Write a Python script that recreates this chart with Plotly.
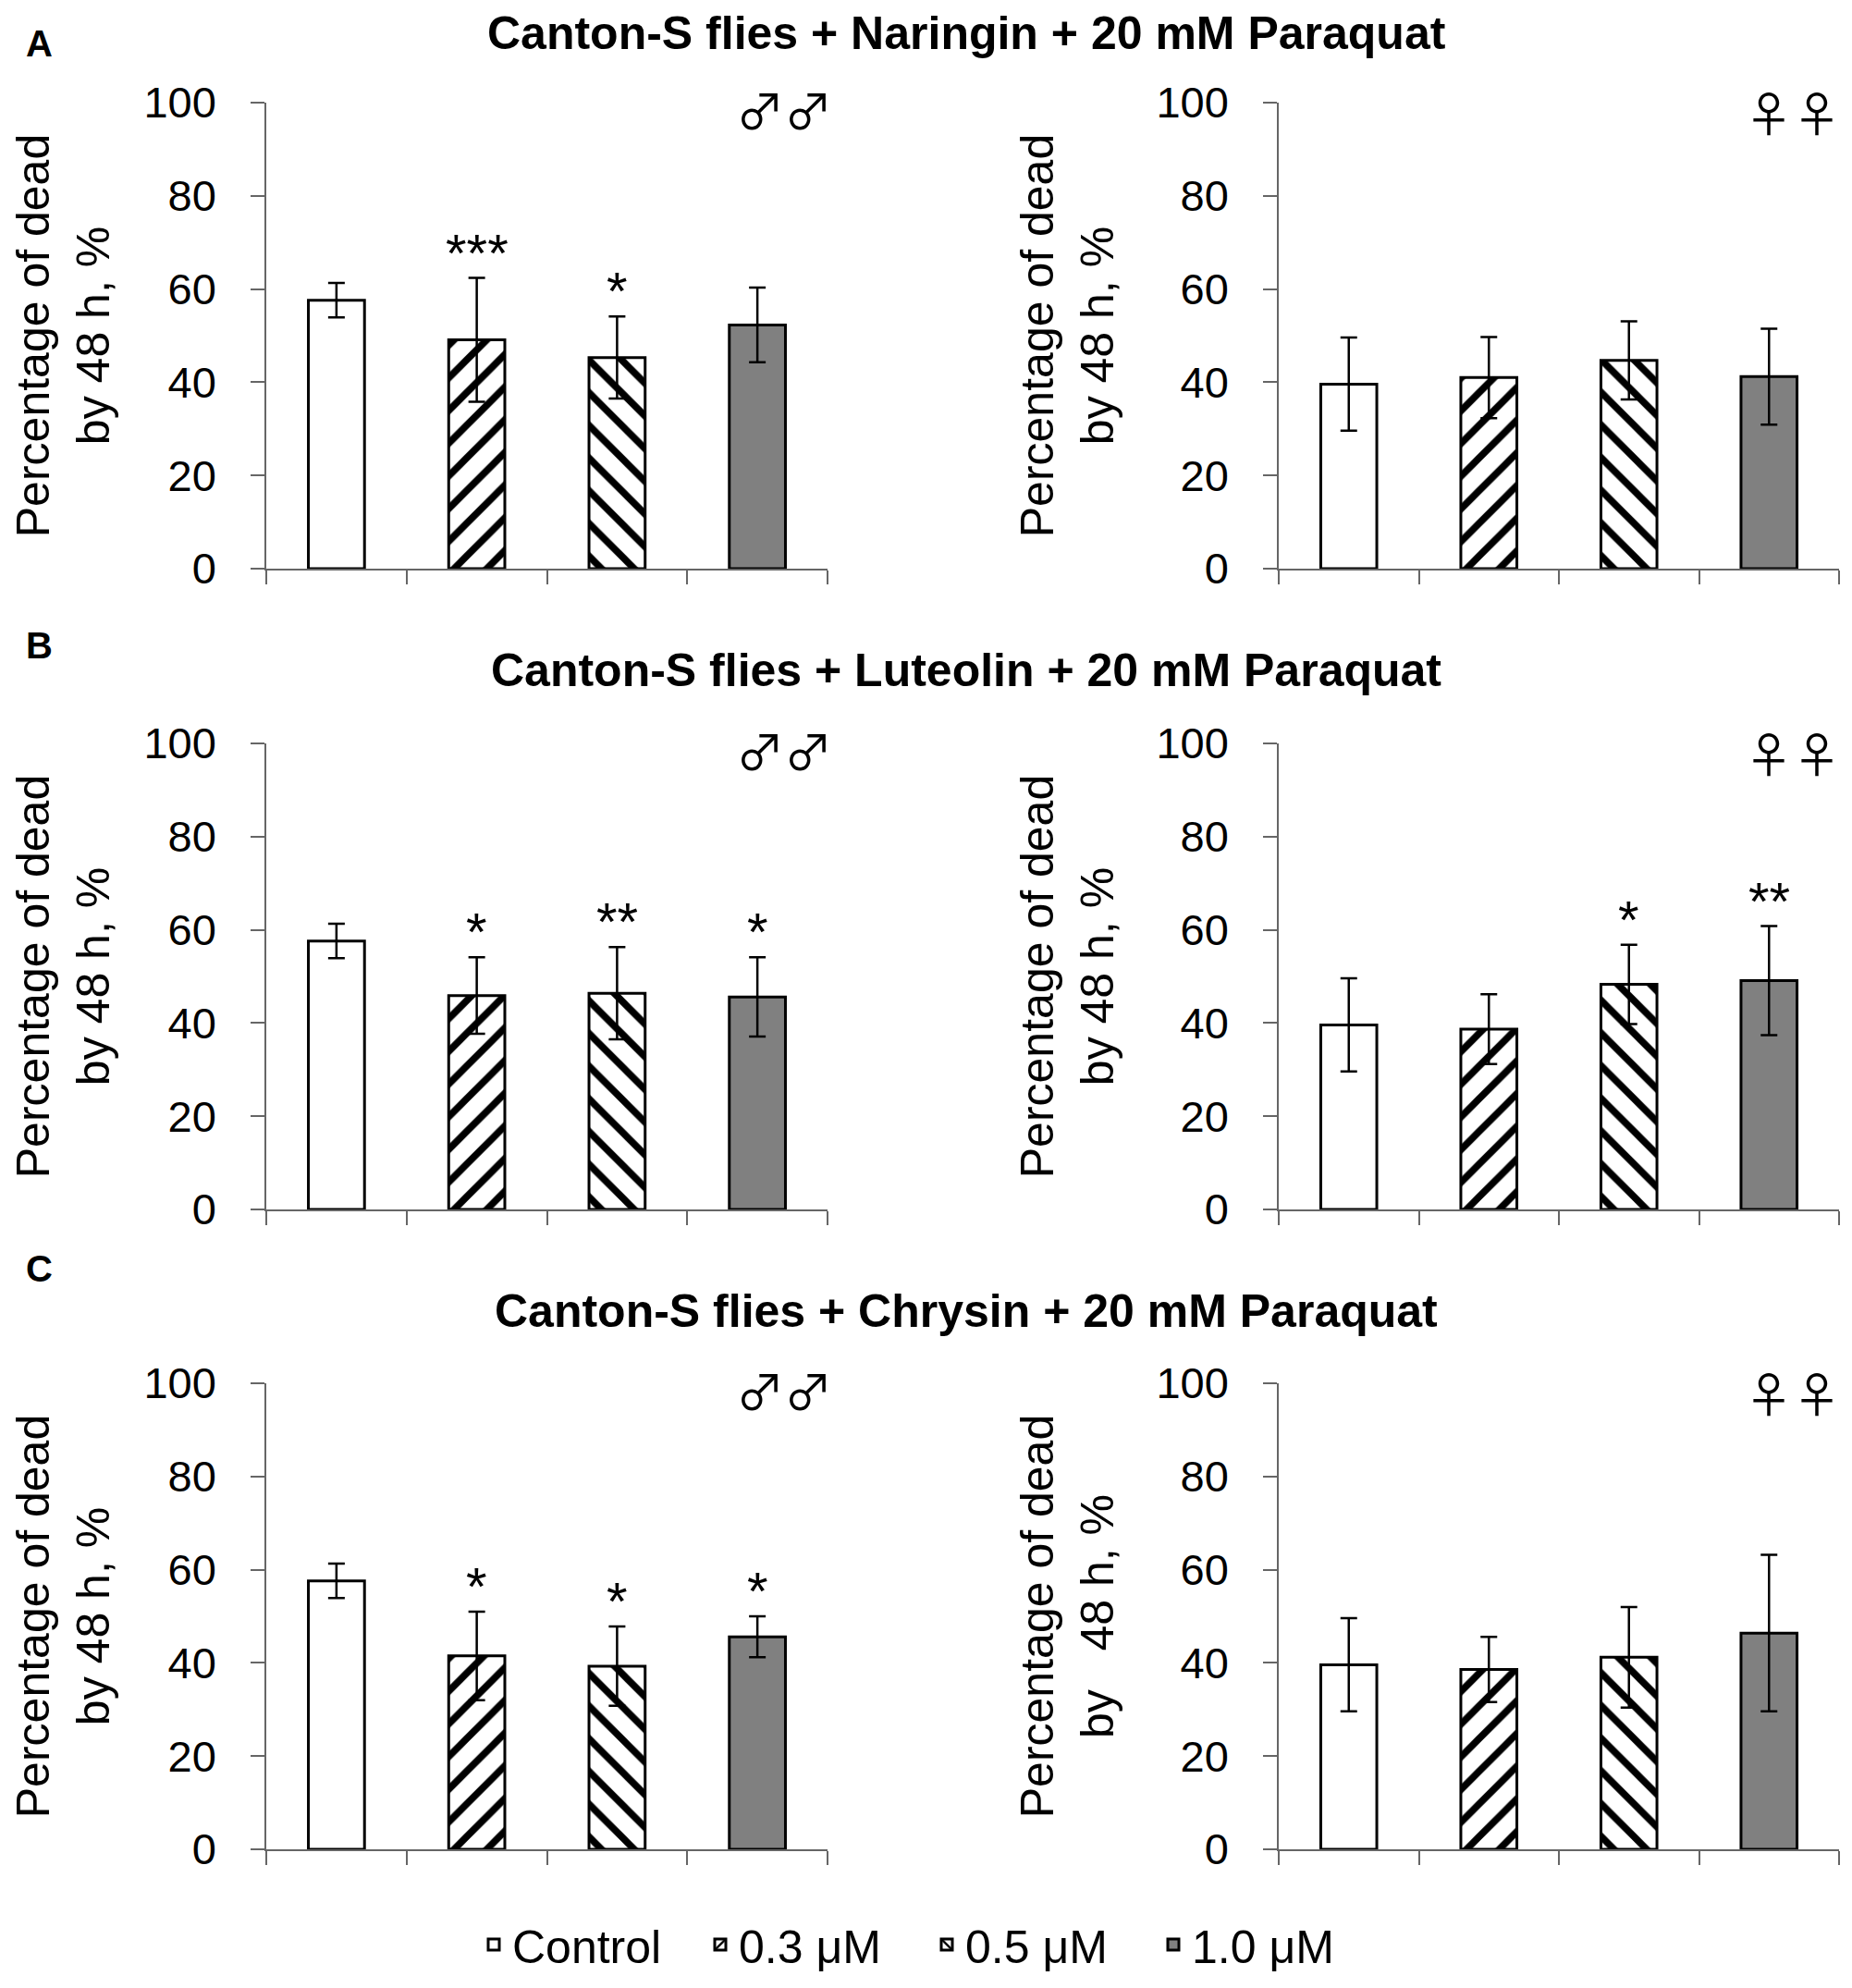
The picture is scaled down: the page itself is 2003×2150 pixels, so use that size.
import plotly.graph_objects as go

# ---------------- data ----------------
categories = ["Control", "0.3 μM", "0.5 μM", "1.0 μM"]

naringin_male = [57.6, 49.1, 45.3, 52.3]
naringin_male_err = [3.7, 13.3, 8.8, 8.0]
naringin_female = [39.6, 41.0, 44.7, 41.2]
naringin_female_err = [10.0, 8.7, 8.4, 10.3]

luteolin_male = [57.6, 45.9, 46.4, 45.6]
luteolin_male_err = [3.7, 8.2, 9.9, 8.5]
luteolin_female = [39.6, 38.7, 48.3, 49.1]
luteolin_female_err = [10.0, 7.5, 8.5, 11.7]

chrysin_male = [57.6, 41.5, 39.3, 45.6]
chrysin_male_err = [3.7, 9.5, 8.5, 4.4]
chrysin_female = [39.6, 38.6, 41.2, 46.4]
chrysin_female_err = [10.0, 7.0, 10.8, 16.8]

naringin_male_sig = ["", "***", "*", ""]
naringin_female_sig = ["", "", "", ""]
luteolin_male_sig = ["", "*", "**", "*"]
luteolin_female_sig = ["", "", "*", "**"]
chrysin_male_sig = ["", "*", "*", "*"]
chrysin_female_sig = ["", "", "", ""]

panel_titles = ["Canton-S flies + Naringin + 20 mM Paraquat",
                "Canton-S flies + Luteolin + 20 mM Paraquat",
                "Canton-S flies + Chrysin + 20 mM Paraquat"]
panel_letters = ["A", "B", "C"]
y_ticks = [0, 20, 40, 60, 80, 100]

# ---------------- styles / layout ----------------
PAGE_W, PAGE_H = 2003, 2150
OFF = 8                      # default page body margin
W, H = PAGE_W - 2 * OFF, PAGE_H - 2 * OFF
FONT = "Liberation Sans, Arial, sans-serif"
SYMBOL_FONT = "Noto Sans CJK JP, DejaVu Sans"


def px_x(p):
    return (p - OFF) / W


def px_y(p):
    return 1 - (p - OFF) / H


styles = [
    dict(color="white", pattern=None),
    dict(color="white", pattern=dict(shape="/", fgcolor="black", bgcolor="white",
                                     size=25, solidity=0.3, fillmode="replace")),
    dict(color="white", pattern=dict(shape="\\", fgcolor="black", bgcolor="white",
                                     size=25, solidity=0.3, fillmode="replace")),
    dict(color="#808080", pattern=None),
]

panels = [
    (naringin_male, naringin_male_err, naringin_male_sig, "♂♂", "Percentage of dead<br>by 48 h, %"),
    (naringin_female, naringin_female_err, naringin_female_sig, "♀♀", "Percentage of dead<br>by 48 h, %"),
    (luteolin_male, luteolin_male_err, luteolin_male_sig, "♂♂", "Percentage of dead<br>by 48 h, %"),
    (luteolin_female, luteolin_female_err, luteolin_female_sig, "♀♀", "Percentage of dead<br>by 48 h, %"),
    (chrysin_male, chrysin_male_err, chrysin_male_sig, "♂♂", "Percentage of dead<br>by 48 h, %"),
    (chrysin_female, chrysin_female_err, chrysin_female_sig, "♀♀",
     "Percentage of dead<br>by\u00a0\u00a0\u00a048 h, %"),
]

# page-pixel layout of plot areas
x_domains_px = [(288, 895), (1383, 1989)]
y_domains_px = [(111, 615), (804, 1308), (1496, 2000)]
symbol_x = {"♂♂": 0.922, "♀♀": 0.918}
symbol_shift = {"♂♂": -6, "♀♀": -9}

fig = go.Figure()
layout = dict(
    width=W, height=H, margin=dict(l=0, r=0, t=0, b=0),
    paper_bgcolor="white", plot_bgcolor="white",
    barmode="overlay", font=dict(family=FONT, color="black", size=47),
    showlegend=True,
    legend=dict(orientation="h", x=px_x(1004), xanchor="center", y=px_y(2103), yanchor="middle",
                font=dict(family=FONT, size=50, color="black"), traceorder="normal",
                entrywidth=200, entrywidthmode="pixels"),
)
annotations = []

for i, (vals, errs, sig, sex, ytitle) in enumerate(panels):
    row, col = divmod(i, 2)
    n = i + 1
    xa = "x" if n == 1 else f"x{n}"
    ya = "y" if n == 1 else f"y{n}"
    for j, cat in enumerate(categories):
        st = styles[j]
        marker = dict(color=st["color"], line=dict(color="black", width=3))
        if st["pattern"]:
            marker["pattern"] = st["pattern"]
        fig.add_trace(go.Bar(
            x=[cat], y=[vals[j]], width=0.4, name=cat, marker=marker,
            error_y=dict(type="data", array=[errs[j]], visible=True, color="black",
                         thickness=2.5, width=9),
            xaxis=xa, yaxis=ya, legendgroup=cat, showlegend=(i == 0),
            hoverinfo="skip",
        ))
        if sig[j]:
            annotations.append(dict(
                x=cat, y=vals[j] + errs[j], xref=xa, yref=ya, text=sig[j],
                showarrow=False, yanchor="bottom", xanchor="center", yshift=-7,
                font=dict(family=FONT, size=58, color="black")))
    x0, x1 = x_domains_px[col]
    yt, yb = y_domains_px[row]
    axis_key_x = "xaxis" if n == 1 else f"xaxis{n}"
    axis_key_y = "yaxis" if n == 1 else f"yaxis{n}"
    layout[axis_key_x] = dict(
        domain=[px_x(x0), px_x(x1)], anchor=ya, type="category",
        categoryorder="array", categoryarray=categories, range=[-0.5, 3.5],
        showticklabels=False, tickson="boundaries", ticks="outside", ticklen=15,
        tickwidth=1.5, tickcolor="#666666", showline=True, linecolor="#666666",
        linewidth=1.5, showgrid=False, zeroline=False, fixedrange=True,
    )
    layout[axis_key_y] = dict(
        domain=[px_y(yb), px_y(yt)], anchor=xa, range=[0, 100],
        tickvals=y_ticks, ticks="outside", ticklen=15, tickwidth=1.5,
        tickcolor="#666666", showline=True, linecolor="#666666", linewidth=1.5,
        showgrid=False, zeroline=False, ticklabelstandoff=28,
        tickfont=dict(family=FONT, size=47, color="black"),
        title=dict(text=ytitle, font=dict(family=FONT, size=50, color="black"), standoff=30),
        automargin=False, fixedrange=True,
    )
    annotations.append(dict(
        x=symbol_x[sex], y=1, xref=f"{xa} domain", yref=f"{ya} domain", text=sex,
        showarrow=False, xanchor="center", yanchor="middle", yshift=symbol_shift[sex],
        font=dict(family=SYMBOL_FONT, size=52, color="black")))

title_y_px = [36, 725, 1418]
letter_y_px = [47, 698, 1372]
for r in range(3):
    annotations.append(dict(
        x=px_x(1045), y=px_y(title_y_px[r]), xref="paper", yref="paper",
        text=f"<b>{panel_titles[r]}</b>", showarrow=False, xanchor="center", yanchor="middle",
        font=dict(family=FONT, size=50, color="black")))
    annotations.append(dict(
        x=px_x(26), y=px_y(letter_y_px[r]), xref="paper", yref="paper",
        text=f"<b>{panel_letters[r]}</b>", showarrow=False, xanchor="left", yanchor="middle",
        font=dict(family=FONT, size=40, color="black")))

layout["annotations"] = annotations
fig.update_layout(**layout)
fig.write_html("out.html")
